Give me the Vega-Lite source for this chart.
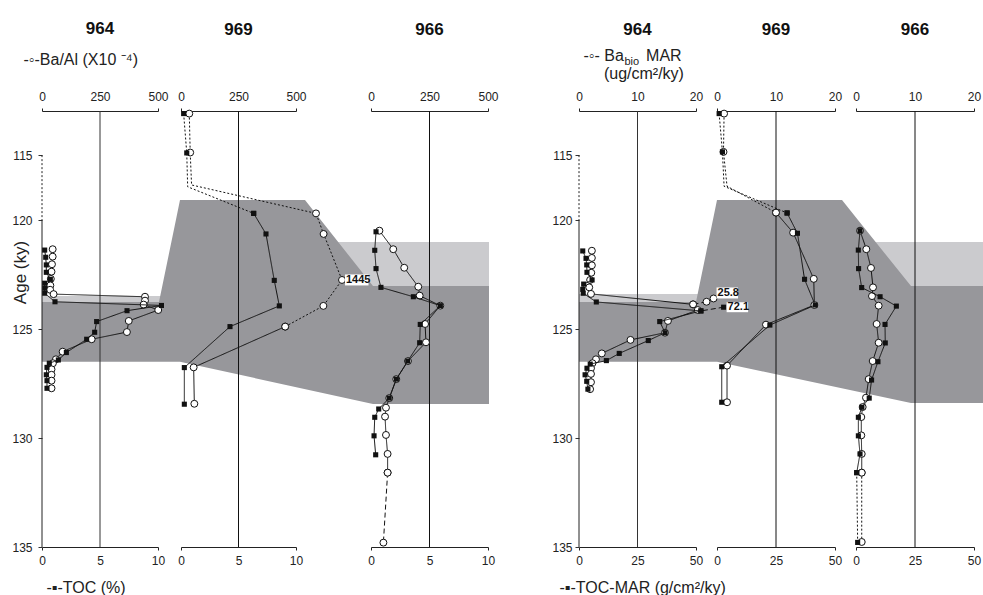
{
"$schema":"https://vega.github.io/schema/vega-lite/v6.json",
"padding":{"left":11,"top":20,"right":0,"bottom":0},
"bounds":"flush",
"spacing":0,
"hconcat":[
{"width":139,"height":436,
 "title":{"text":"964","anchor":"start","align":"center","dx":58,"dy":20,"frame":"group","offset":16,"baseline":"bottom","fontSize":17,"fontWeight":"bold","color":"#111"},
 "layer":[
  {"layer":[
    {"encoding":{
      "x":{"field":"x","type":"quantitative","scale":{"domain":[0,500],"range":[0,116],"nice":false,"zero":false},"axis":{"orient":"top","values":[0,250,500],"tickOpacity":{"condition":{"test":"datum.value == 250","value":0},"value":1},"title":"-◦-Ba/Al (X10 ⁻⁴)","titleX":-19,"titleY":-47,"titleAlign":"left","titleBaseline":"alphabetic"}},
      "y":{"field":"age","type":"quantitative","scale":{"domain":[111.6,120,135],"range":[0,109,436],"nice":false,"zero":false},"axis":{"orient":"left","values":[115,120,125,130,135],"domain":false,"tickSize":4,"tickColor":"#333","labelPadding":6,"title":"Age (ky)","titleFontSize":17,"titleAngle":-90,"titleX":-22,"titleY":161,"titleAlign":"center","titleBaseline":"middle"}}},
     "layer":[
      {"data":{"name":"shadeL"},"transform":[{"filter":"datum.p=='light'"}],"mark":{"type":"line","filled":true,"color":"#cbcbce"},"encoding":{"order":{"field":"i","type":"quantitative"}}},
      {"data":{"name":"shadeL"},"transform":[{"filter":"datum.p=='dark'"}],"mark":{"type":"line","filled":true,"color":"#97979b"},"encoding":{"order":{"field":"i","type":"quantitative"}}}
     ]},
    {"data":{"values":[{}]},"mark":{"type":"rule","color":"#333","strokeWidth":1},"encoding":{"x":{"datum":250}}},
    {"data":{"values":[{}]},"mark":{"type":"rule","color":"#222","strokeWidth":1},"encoding":{"x":{"datum":0},"y":{"datum":120},"y2":{"datum":135}}},
    {"data":{"values":[{}]},"mark":{"type":"rule","color":"#222","strokeWidth":1,"strokeDash":[2,2]},"encoding":{"x":{"datum":0},"y":{"datum":115},"y2":{"datum":120}}},
    {"encoding":{
      "x":{"field":"x","type":"quantitative","scale":{"domain":[0,500],"range":[0,116],"nice":false,"zero":false},"axis":{"orient":"top","values":[0,250,500],"tickOpacity":{"condition":{"test":"datum.value == 250","value":0},"value":1},"title":"-◦-Ba/Al (X10 ⁻⁴)","titleX":-19,"titleY":-47,"titleAlign":"left","titleBaseline":"alphabetic"}},
      "y":{"field":"age","type":"quantitative","scale":{"domain":[111.6,120,135],"range":[0,109,436],"nice":false,"zero":false},"axis":{"orient":"left","values":[115,120,125,130,135],"domain":false,"tickSize":4,"tickColor":"#333","labelPadding":6,"title":"Age (ky)","titleFontSize":17,"titleAngle":-90,"titleX":-22,"titleY":161,"titleAlign":"center","titleBaseline":"middle"}}},
     "layer":[
      {"data":{"name":"L964"},"transform":[{"filter":"datum.s=='ba'"}],"mark":{"type":"line","color":"#111","strokeWidth":1},"encoding":{"detail":{"field":"g","type":"nominal"},"strokeDash":{"field":"st","type":"nominal","scale":{"domain":["solid","dot","dash"],"range":[[1,0],[2,2],[5,3]]},"legend":null},"order":{"field":"age","type":"quantitative"}}},
      {"data":{"name":"L964"},"transform":[{"filter":"datum.s=='ba' && datum.m !== 0"}],"mark":{"type":"point","shape":"circle","filled":true,"fill":"#fff","stroke":"#111","strokeWidth":1,"size":48,"opacity":1}}
     ]}
  ]},
  {"encoding":{
    "x":{"field":"x","type":"quantitative","scale":{"domain":[0,10],"range":[0,116],"nice":false,"zero":false},"axis":{"orient":"bottom","values":[0,5,10],"tickOpacity":{"condition":{"test":"datum.value == 5","value":0},"value":1},"title":"-▪-TOC (%)","titleX":4,"titleY":45,"titleAlign":"left","titleBaseline":"alphabetic"}},
    "y":{"field":"age","type":"quantitative","scale":{"domain":[111.6,120,135],"range":[0,109,436],"nice":false,"zero":false},"axis":{"orient":"left","values":[115,120,125,130,135],"domain":false,"tickSize":4,"tickColor":"#333","labelPadding":6,"title":"Age (ky)","titleFontSize":17,"titleAngle":-90,"titleX":-22,"titleY":161,"titleAlign":"center","titleBaseline":"middle"}}},
   "layer":[
    {"data":{"name":"L964"},"transform":[{"filter":"datum.s=='toc'"}],"mark":{"type":"line","color":"#111","strokeWidth":1},"encoding":{"detail":{"field":"g","type":"nominal"},"strokeDash":{"field":"st","type":"nominal","scale":{"domain":["solid","dot","dash"],"range":[[1,0],[2,2],[5,3]]},"legend":null},"order":{"field":"age","type":"quantitative"}}},
    {"data":{"name":"L964"},"transform":[{"filter":"datum.s=='toc' && datum.m !== 0"}],"mark":{"type":"square","color":"#111","size":26,"opacity":1}}
   ]}
 ],
 "resolve":{"scale":{"x":"independent"},"axis":{"x":"independent"}}
},
{"width":190,"height":436,
 "title":{"text":"969","anchor":"start","align":"center","dx":57.5,"dy":20,"frame":"group","offset":54,"baseline":"bottom","fontSize":17,"fontWeight":"bold","color":"#111"},
 "layer":[
  {"layer":[
    {"data":{"values":[{}]},"mark":{"type":"rule","color":"#111","strokeWidth":1},"encoding":{"x":{"datum":250}}},
    {"encoding":{
      "x":{"field":"x","type":"quantitative","scale":{"domain":[0,500],"range":[0,115],"nice":false,"zero":false},"axis":{"orient":"top","values":[0,250,500],"tickOpacity":{"condition":{"test":"datum.value == 250","value":0},"value":1},"title":null}},
      "y":{"field":"age","type":"quantitative","scale":{"domain":[111.6,120,135],"range":[0,109,436],"nice":false,"zero":false},"axis":null}},
     "layer":[
      {"data":{"name":"L969"},"transform":[{"filter":"datum.s=='ba'"}],"mark":{"type":"line","color":"#111","strokeWidth":1},"encoding":{"detail":{"field":"g","type":"nominal"},"strokeDash":{"field":"st","type":"nominal","scale":{"domain":["solid","dot","dash"],"range":[[1,0],[2,2],[5,3]]},"legend":null},"order":{"field":"age","type":"quantitative"}}},
      {"data":{"name":"L969"},"transform":[{"filter":"datum.s=='ba' && datum.m !== 0"}],"mark":{"type":"point","shape":"circle","filled":true,"fill":"#fff","stroke":"#111","strokeWidth":1,"size":48,"opacity":1}},
      {"data":{"name":"L969"},"transform":[{"filter":"datum.s=='ba' && isValid(datum.lab)"}],"mark":{"type":"point","shape":"M0.3,-0.55H2.65V0.55H0.3Z","size":400,"filled":true,"fill":"#fff","strokeWidth":0,"opacity":1}},
      {"data":{"name":"L969"},"transform":[{"filter":"datum.s=='ba' && isValid(datum.lab)"}],"mark":{"type":"text","align":"left","baseline":"middle","dx":4,"fontSize":11,"fontWeight":"bold","color":"#111"},"encoding":{"text":{"field":"lab","type":"nominal"}}}
     ]}
  ]},
  {"encoding":{
    "x":{"field":"x","type":"quantitative","scale":{"domain":[0,10],"range":[0,115],"nice":false,"zero":false},"axis":{"orient":"bottom","values":[0,5,10],"tickOpacity":{"condition":{"test":"datum.value == 5","value":0},"value":1},"title":null}},
    "y":{"field":"age","type":"quantitative","scale":{"domain":[111.6,120,135],"range":[0,109,436],"nice":false,"zero":false},"axis":null}},
   "layer":[
    {"data":{"name":"L969"},"transform":[{"filter":"datum.s=='toc'"}],"mark":{"type":"line","color":"#111","strokeWidth":1},"encoding":{"detail":{"field":"g","type":"nominal"},"strokeDash":{"field":"st","type":"nominal","scale":{"domain":["solid","dot","dash"],"range":[[1,0],[2,2],[5,3]]},"legend":null},"order":{"field":"age","type":"quantitative"}}},
    {"data":{"name":"L969"},"transform":[{"filter":"datum.s=='toc' && datum.m !== 0"}],"mark":{"type":"square","color":"#111","size":26,"opacity":1}}
   ]}
 ],
 "resolve":{"scale":{"x":"independent"},"axis":{"x":"independent"}}
},
{"width":208,"height":436,
 "title":{"text":"966","anchor":"start","align":"center","dx":58.5,"dy":20,"frame":"group","offset":54,"baseline":"bottom","fontSize":17,"fontWeight":"bold","color":"#111"},
 "layer":[
  {"layer":[
    {"data":{"values":[{}]},"mark":{"type":"rule","color":"#111","strokeWidth":1},"encoding":{"x":{"datum":250}}},
    {"encoding":{
      "x":{"field":"x","type":"quantitative","scale":{"domain":[0,500],"range":[0,117],"nice":false,"zero":false},"axis":{"orient":"top","values":[0,250,500],"tickOpacity":{"condition":{"test":"datum.value == 250","value":0},"value":1},"title":null}},
      "y":{"field":"age","type":"quantitative","scale":{"domain":[111.6,120,135],"range":[0,109,436],"nice":false,"zero":false},"axis":null}},
     "layer":[
      {"data":{"name":"L966"},"transform":[{"filter":"datum.s=='ba'"}],"mark":{"type":"line","color":"#111","strokeWidth":1},"encoding":{"detail":{"field":"g","type":"nominal"},"strokeDash":{"field":"st","type":"nominal","scale":{"domain":["solid","dot","dash"],"range":[[1,0],[2,2],[5,3]]},"legend":null},"order":{"field":"age","type":"quantitative"}}},
      {"data":{"name":"L966"},"transform":[{"filter":"datum.s=='ba' && datum.m !== 0"}],"mark":{"type":"point","shape":"circle","filled":true,"fill":"#fff","stroke":"#111","strokeWidth":1,"size":48,"opacity":1}}
     ]}
  ]},
  {"encoding":{
    "x":{"field":"x","type":"quantitative","scale":{"domain":[0,10],"range":[0,117],"nice":false,"zero":false},"axis":{"orient":"bottom","values":[0,5,10],"tickOpacity":{"condition":{"test":"datum.value == 5","value":0},"value":1},"title":null}},
    "y":{"field":"age","type":"quantitative","scale":{"domain":[111.6,120,135],"range":[0,109,436],"nice":false,"zero":false},"axis":null}},
   "layer":[
    {"data":{"name":"L966"},"transform":[{"filter":"datum.s=='toc'"}],"mark":{"type":"line","color":"#111","strokeWidth":1},"encoding":{"detail":{"field":"g","type":"nominal"},"strokeDash":{"field":"st","type":"nominal","scale":{"domain":["solid","dot","dash"],"range":[[1,0],[2,2],[5,3]]},"legend":null},"order":{"field":"age","type":"quantitative"}}},
    {"data":{"name":"L966"},"transform":[{"filter":"datum.s=='toc' && datum.m !== 0"}],"mark":{"type":"square","color":"#111","size":26,"opacity":1}}
   ]}
 ],
 "resolve":{"scale":{"x":"independent"},"axis":{"x":"independent"}}
},
{"width":138,"height":436,
 "title":{"text":"964","anchor":"start","align":"center","dx":58.5,"dy":20,"frame":"group","offset":11,"baseline":"bottom","fontSize":17,"fontWeight":"bold","color":"#111"},
 "layer":[
  {"layer":[
    {"encoding":{
      "x":{"field":"x","type":"quantitative","scale":{"domain":[0,20],"range":[0,117],"nice":false,"zero":false},"axis":{"orient":"top","values":[0,10,20],"tickOpacity":{"condition":{"test":"datum.value == 10","value":0},"value":1},"title":["-◦- Ba\u00a0\u00a0\u00a0\u00a0\u00a0MAR","\u200b\u2002\u2002\u00a0(ug/cm²/ky)"],"titleX":4,"titleY":-51,"titleLineHeight":18,"titleAlign":"left","titleBaseline":"alphabetic"}},
      "y":{"field":"age","type":"quantitative","scale":{"domain":[111.6,120,135],"range":[0,109,436],"nice":false,"zero":false},"axis":{"orient":"left","values":[115,120,125,130,135],"domain":false,"tickSize":4,"tickColor":"#333","labelPadding":3,"title":"bio","titleFontSize":11,"titleAngle":0,"titleX":45,"titleY":-47,"titleAlign":"left","titleBaseline":"alphabetic"}}},
     "layer":[
      {"data":{"name":"shadeR"},"transform":[{"filter":"datum.p=='light'"}],"mark":{"type":"line","filled":true,"color":"#cbcbce"},"encoding":{"order":{"field":"i","type":"quantitative"}}},
      {"data":{"name":"shadeR"},"transform":[{"filter":"datum.p=='dark'"}],"mark":{"type":"line","filled":true,"color":"#97979b"},"encoding":{"order":{"field":"i","type":"quantitative"}}}
     ]},
    {"data":{"values":[{}]},"mark":{"type":"rule","color":"#333","strokeWidth":1},"encoding":{"x":{"datum":10}}},
    {"data":{"values":[{}]},"mark":{"type":"rule","color":"#222","strokeWidth":1},"encoding":{"x":{"datum":0},"y":{"datum":120},"y2":{"datum":135}}},
    {"data":{"values":[{}]},"mark":{"type":"rule","color":"#222","strokeWidth":1,"strokeDash":[2,2]},"encoding":{"x":{"datum":0},"y":{"datum":115},"y2":{"datum":120}}},
    {"encoding":{
      "x":{"field":"x","type":"quantitative","scale":{"domain":[0,20],"range":[0,117],"nice":false,"zero":false},"axis":{"orient":"top","values":[0,10,20],"tickOpacity":{"condition":{"test":"datum.value == 10","value":0},"value":1},"title":["-◦- Ba\u00a0\u00a0\u00a0\u00a0\u00a0MAR","\u200b\u2002\u2002\u00a0(ug/cm²/ky)"],"titleX":4,"titleY":-51,"titleLineHeight":18,"titleAlign":"left","titleBaseline":"alphabetic"}},
      "y":{"field":"age","type":"quantitative","scale":{"domain":[111.6,120,135],"range":[0,109,436],"nice":false,"zero":false},"axis":{"orient":"left","values":[115,120,125,130,135],"domain":false,"tickSize":4,"tickColor":"#333","labelPadding":3,"title":"bio","titleFontSize":11,"titleAngle":0,"titleX":45,"titleY":-47,"titleAlign":"left","titleBaseline":"alphabetic"}}},
     "layer":[
      {"data":{"name":"R964"},"transform":[{"filter":"datum.s=='ba'"}],"mark":{"type":"line","color":"#111","strokeWidth":1},"encoding":{"detail":{"field":"g","type":"nominal"},"strokeDash":{"field":"st","type":"nominal","scale":{"domain":["solid","dot","dash"],"range":[[1,0],[2,2],[5,3]]},"legend":null},"order":{"field":"age","type":"quantitative"}}},
      {"data":{"name":"R964"},"transform":[{"filter":"datum.s=='ba' && datum.m !== 0"}],"mark":{"type":"point","shape":"circle","filled":true,"fill":"#fff","stroke":"#111","strokeWidth":1,"size":48,"opacity":1}},
      {"data":{"name":"R964"},"transform":[{"filter":"datum.s=='ba' && isValid(datum.lab)"}],"mark":{"type":"point","shape":"M0.3,-1.1H2.45V0H0.3Z","size":400,"filled":true,"fill":"#fff","strokeWidth":0,"opacity":1}},
      {"data":{"name":"R964"},"transform":[{"filter":"datum.s=='ba' && isValid(datum.lab)"}],"mark":{"type":"text","align":"left","baseline":"middle","dx":4,"dy":-5,"fontSize":11,"fontWeight":"bold","color":"#111"},"encoding":{"text":{"field":"lab","type":"nominal"}}}
     ]}
  ]},
  {"encoding":{
    "x":{"field":"x","type":"quantitative","scale":{"domain":[0,50],"range":[0,117],"nice":false,"zero":false},"axis":{"orient":"bottom","values":[0,25,50],"tickOpacity":{"condition":{"test":"datum.value == 25","value":0},"value":1},"title":"-▪-TOC-MAR (g/cm²/ky)","titleX":-20,"titleY":45,"titleAlign":"left","titleBaseline":"alphabetic"}},
    "y":{"field":"age","type":"quantitative","scale":{"domain":[111.6,120,135],"range":[0,109,436],"nice":false,"zero":false},"axis":{"orient":"left","values":[115,120,125,130,135],"domain":false,"tickSize":4,"tickColor":"#333","labelPadding":3,"title":"bio","titleFontSize":11,"titleAngle":0,"titleX":45,"titleY":-47,"titleAlign":"left","titleBaseline":"alphabetic"}}},
   "layer":[
    {"data":{"name":"R964"},"transform":[{"filter":"datum.s=='toc'"}],"mark":{"type":"line","color":"#111","strokeWidth":1},"encoding":{"detail":{"field":"g","type":"nominal"},"strokeDash":{"field":"st","type":"nominal","scale":{"domain":["solid","dot","dash"],"range":[[1,0],[2,2],[5,3]]},"legend":null},"order":{"field":"age","type":"quantitative"}}},
    {"data":{"name":"R964"},"transform":[{"filter":"datum.s=='toc' && datum.m !== 0"}],"mark":{"type":"square","color":"#111","size":26,"opacity":1}},
    {"data":{"name":"R964"},"transform":[{"filter":"datum.s=='toc' && isValid(datum.lab)"}],"mark":{"type":"point","shape":"M0.3,-0.5H2.45V0.5H0.3Z","size":400,"filled":true,"fill":"#fff","strokeWidth":0,"opacity":1}},
    {"data":{"name":"R964"},"transform":[{"filter":"datum.s=='toc' && isValid(datum.lab)"}],"mark":{"type":"text","align":"left","baseline":"middle","dx":4,"fontSize":11,"fontWeight":"bold","color":"#111"},"encoding":{"text":{"field":"lab","type":"nominal"}}}
   ]}
 ],
 "resolve":{"scale":{"x":"independent"},"axis":{"x":"independent"}}
},
{"width":139,"height":436,
 "title":{"text":"969","anchor":"start","align":"center","dx":59,"dy":20,"frame":"group","offset":54,"baseline":"bottom","fontSize":17,"fontWeight":"bold","color":"#111"},
 "layer":[
  {"layer":[
    {"data":{"values":[{}]},"mark":{"type":"rule","color":"#111","strokeWidth":1},"encoding":{"x":{"datum":10}}},
    {"encoding":{
      "x":{"field":"x","type":"quantitative","scale":{"domain":[0,20],"range":[0,118],"nice":false,"zero":false},"axis":{"orient":"top","values":[0,10,20],"tickOpacity":{"condition":{"test":"datum.value == 10","value":0},"value":1},"title":null}},
      "y":{"field":"age","type":"quantitative","scale":{"domain":[111.6,120,135],"range":[0,109,436],"nice":false,"zero":false},"axis":null}},
     "layer":[
      {"data":{"name":"R969"},"transform":[{"filter":"datum.s=='ba'"}],"mark":{"type":"line","color":"#111","strokeWidth":1},"encoding":{"detail":{"field":"g","type":"nominal"},"strokeDash":{"field":"st","type":"nominal","scale":{"domain":["solid","dot","dash"],"range":[[1,0],[2,2],[5,3]]},"legend":null},"order":{"field":"age","type":"quantitative"}}},
      {"data":{"name":"R969"},"transform":[{"filter":"datum.s=='ba' && datum.m !== 0"}],"mark":{"type":"point","shape":"circle","filled":true,"fill":"#fff","stroke":"#111","strokeWidth":1,"size":48,"opacity":1}}
     ]}
  ]},
  {"encoding":{
    "x":{"field":"x","type":"quantitative","scale":{"domain":[0,50],"range":[0,118],"nice":false,"zero":false},"axis":{"orient":"bottom","values":[0,25,50],"tickOpacity":{"condition":{"test":"datum.value == 25","value":0},"value":1},"title":null}},
    "y":{"field":"age","type":"quantitative","scale":{"domain":[111.6,120,135],"range":[0,109,436],"nice":false,"zero":false},"axis":null}},
   "layer":[
    {"data":{"name":"R969"},"transform":[{"filter":"datum.s=='toc'"}],"mark":{"type":"line","color":"#111","strokeWidth":1},"encoding":{"detail":{"field":"g","type":"nominal"},"strokeDash":{"field":"st","type":"nominal","scale":{"domain":["solid","dot","dash"],"range":[[1,0],[2,2],[5,3]]},"legend":null},"order":{"field":"age","type":"quantitative"}}},
    {"data":{"name":"R969"},"transform":[{"filter":"datum.s=='toc' && datum.m !== 0"}],"mark":{"type":"square","color":"#111","size":26,"opacity":1}}
   ]}
 ],
 "resolve":{"scale":{"x":"independent"},"axis":{"x":"independent"}}
},
{"width":127,"height":436,
 "title":{"text":"966","anchor":"start","align":"center","dx":59,"dy":20,"frame":"group","offset":54,"baseline":"bottom","fontSize":17,"fontWeight":"bold","color":"#111"},
 "layer":[
  {"layer":[
    {"data":{"values":[{}]},"mark":{"type":"rule","color":"#111","strokeWidth":1},"encoding":{"x":{"datum":10}}},
    {"encoding":{
      "x":{"field":"x","type":"quantitative","scale":{"domain":[0,20],"range":[0,118],"nice":false,"zero":false},"axis":{"orient":"top","values":[0,10,20],"tickOpacity":{"condition":{"test":"datum.value == 10","value":0},"value":1},"title":null}},
      "y":{"field":"age","type":"quantitative","scale":{"domain":[111.6,120,135],"range":[0,109,436],"nice":false,"zero":false},"axis":null}},
     "layer":[
      {"data":{"name":"R966"},"transform":[{"filter":"datum.s=='ba'"}],"mark":{"type":"line","color":"#111","strokeWidth":1},"encoding":{"detail":{"field":"g","type":"nominal"},"strokeDash":{"field":"st","type":"nominal","scale":{"domain":["solid","dot","dash"],"range":[[1,0],[2,2],[5,3]]},"legend":null},"order":{"field":"age","type":"quantitative"}}},
      {"data":{"name":"R966"},"transform":[{"filter":"datum.s=='ba' && datum.m !== 0"}],"mark":{"type":"point","shape":"circle","filled":true,"fill":"#fff","stroke":"#111","strokeWidth":1,"size":48,"opacity":1}}
     ]}
  ]},
  {"encoding":{
    "x":{"field":"x","type":"quantitative","scale":{"domain":[0,50],"range":[0,118],"nice":false,"zero":false},"axis":{"orient":"bottom","values":[0,25,50],"tickOpacity":{"condition":{"test":"datum.value == 25","value":0},"value":1},"title":null}},
    "y":{"field":"age","type":"quantitative","scale":{"domain":[111.6,120,135],"range":[0,109,436],"nice":false,"zero":false},"axis":null}},
   "layer":[
    {"data":{"name":"R966"},"transform":[{"filter":"datum.s=='toc'"}],"mark":{"type":"line","color":"#111","strokeWidth":1},"encoding":{"detail":{"field":"g","type":"nominal"},"strokeDash":{"field":"st","type":"nominal","scale":{"domain":["solid","dot","dash"],"range":[[1,0],[2,2],[5,3]]},"legend":null},"order":{"field":"age","type":"quantitative"}}},
    {"data":{"name":"R966"},"transform":[{"filter":"datum.s=='toc' && datum.m !== 0"}],"mark":{"type":"square","color":"#111","size":26,"opacity":1}}
   ]}
 ],
 "resolve":{"scale":{"x":"independent"},"axis":{"x":"independent"}}
}
],
"datasets":{
"shadeL":[
{"p":"dark","i":0,"x":0,"age":123.76},{"p":"dark","i":1,"x":504.3,"age":123.76},{"p":"dark","i":2,"x":577.2,"age":120},{"p":"dark","i":3,"x":594.8,"age":118.46},{"p":"dark","i":4,"x":1133.6,"age":118.46},{"p":"dark","i":5,"x":1201.7,"age":120},{"p":"dark","i":6,"x":1426.7,"age":123.03},{"p":"dark","i":7,"x":1926.7,"age":123.03},{"p":"dark","i":8,"x":1926.7,"age":128.44},{"p":"dark","i":9,"x":1426.7,"age":128.44},{"p":"dark","i":10,"x":594.8,"age":126.5},{"p":"dark","i":11,"x":0,"age":126.5},
{"p":"light","i":0,"x":0,"age":123.49},{"p":"light","i":1,"x":513,"age":123.49},{"p":"light","i":2,"x":1250,"age":121.01},{"p":"light","i":3,"x":1926.7,"age":121.01},{"p":"light","i":4,"x":1926.7,"age":123.03},{"p":"light","i":5,"x":1300,"age":123.03},{"p":"light","i":6,"x":700,"age":123.76},{"p":"light","i":7,"x":0,"age":123.76}
],
"shadeR":[
{"p":"dark","i":0,"x":0,"age":123.76},{"p":"dark","i":1,"x":20,"age":123.76},{"p":"dark","i":2,"x":22.89,"age":120},{"p":"dark","i":3,"x":23.59,"age":118.46},{"p":"dark","i":4,"x":44.96,"age":118.46},{"p":"dark","i":5,"x":47.69,"age":120},{"p":"dark","i":6,"x":56.75,"age":123.03},{"p":"dark","i":7,"x":69.06,"age":123.03},{"p":"dark","i":8,"x":69.06,"age":128.39},{"p":"dark","i":9,"x":56.75,"age":128.39},{"p":"dark","i":10,"x":23.59,"age":126.5},{"p":"dark","i":11,"x":0,"age":126.5},
{"p":"light","i":0,"x":0,"age":123.4},{"p":"light","i":1,"x":20.5,"age":123.4},{"p":"light","i":2,"x":35,"age":121.01},{"p":"light","i":3,"x":69.06,"age":121.01},{"p":"light","i":4,"x":69.06,"age":123.03},{"p":"light","i":5,"x":40,"age":123.03},{"p":"light","i":6,"x":28,"age":123.76},{"p":"light","i":7,"x":0,"age":123.76}
],
"L964":[
{"s":"ba","g":"a","st":"solid","age":121.34,"x":46},{"s":"ba","g":"a","st":"solid","age":121.68,"x":46},{"s":"ba","g":"a","st":"solid","age":122.03,"x":43},{"s":"ba","g":"a","st":"solid","age":122.37,"x":41},{"s":"ba","g":"a","st":"solid","age":122.70,"x":38},{"s":"ba","g":"a","st":"solid","age":123.00,"x":36},{"s":"ba","g":"a","st":"solid","age":123.20,"x":35},{"s":"ba","g":"a","st":"solid","age":123.40,"x":50},{"s":"ba","g":"a","st":"solid","age":123.52,"x":444},{"s":"ba","g":"a","st":"solid","age":123.70,"x":444},{"s":"ba","g":"a","st":"solid","age":123.88,"x":438},{"s":"ba","g":"a","st":"solid","age":124.13,"x":501},{"s":"ba","g":"a","st":"solid","age":124.63,"x":374},{"s":"ba","g":"a","st":"solid","age":125.14,"x":366},{"s":"ba","g":"a","st":"solid","age":125.47,"x":214},{"s":"ba","g":"a","st":"solid","age":126.04,"x":89},{"s":"ba","g":"a","st":"solid","age":126.39,"x":60},{"s":"ba","g":"a","st":"solid","age":126.57,"x":47},{"s":"ba","g":"a","st":"solid","age":126.85,"x":41},{"s":"ba","g":"a","st":"solid","age":127.10,"x":41},{"s":"ba","g":"a","st":"solid","age":127.37,"x":41},{"s":"ba","g":"a","st":"solid","age":127.72,"x":41},
{"s":"toc","g":"b","st":"solid","age":121.38,"x":0.23},{"s":"toc","g":"b","st":"solid","age":121.71,"x":0.32},{"s":"toc","g":"b","st":"solid","age":122.06,"x":0.37},{"s":"toc","g":"b","st":"solid","age":122.40,"x":0.37},{"s":"toc","g":"b","st":"solid","age":122.72,"x":0.72},{"s":"toc","g":"b","st":"solid","age":122.90,"x":0.23},{"s":"toc","g":"b","st":"solid","age":123.13,"x":0.23},{"s":"toc","g":"b","st":"solid","age":123.36,"x":0.23},{"s":"toc","g":"b","st":"solid","age":123.75,"x":1.12},{"s":"toc","g":"b","st":"solid","age":123.92,"x":10.3},{"s":"toc","g":"b","st":"solid","age":124.16,"x":7.33},{"s":"toc","g":"b","st":"solid","age":124.66,"x":4.71},{"s":"toc","g":"b","st":"solid","age":125.15,"x":4.54},{"s":"toc","g":"b","st":"solid","age":125.47,"x":3.85},{"s":"toc","g":"b","st":"solid","age":126.08,"x":2.10},{"s":"toc","g":"b","st":"solid","age":126.42,"x":1.41},{"s":"toc","g":"b","st":"solid","age":126.57,"x":0.63},{"s":"toc","g":"b","st":"solid","age":126.76,"x":0.43},{"s":"toc","g":"b","st":"solid","age":127.10,"x":0.37},{"s":"toc","g":"b","st":"solid","age":127.37,"x":0.43},{"s":"toc","g":"b","st":"solid","age":127.72,"x":0.43}
],
"L969":[
{"s":"ba","g":"a1","st":"dot","age":111.8,"x":36},{"s":"ba","g":"a1","st":"dot","age":114.8,"x":40},{"s":"ba","g":"a1","st":"dot","age":117.3,"x":46,"m":0},{"s":"ba","g":"a1","st":"dot","age":119.49,"x":587},{"s":"ba","g":"a1","st":"dot","age":120.64,"x":620},{"s":"ba","g":"a1","st":"dot","age":122.75,"x":700,"lab":"1445"},{"s":"ba","g":"a1","st":"dot","age":123.94,"x":619},{"s":"ba","g":"a1","st":"dot","age":124.89,"x":453},
{"s":"ba","g":"a2","st":"solid","age":124.89,"x":453},{"s":"ba","g":"a2","st":"solid","age":126.76,"x":55},{"s":"ba","g":"a2","st":"solid","age":128.43,"x":58},
{"s":"toc","g":"b1","st":"dot","age":111.8,"x":0.23},{"s":"toc","g":"b1","st":"dot","age":114.83,"x":0.5},{"s":"toc","g":"b1","st":"dot","age":117.44,"x":0.58,"m":0},{"s":"toc","g":"b1","st":"dot","age":119.49,"x":6.32},
{"s":"toc","g":"b2","st":"solid","age":119.49,"x":6.32},{"s":"toc","g":"b2","st":"solid","age":120.64,"x":7.39},{"s":"toc","g":"b2","st":"solid","age":122.77,"x":8.11},{"s":"toc","g":"b2","st":"solid","age":123.94,"x":8.55},{"s":"toc","g":"b2","st":"solid","age":124.89,"x":4.26},{"s":"toc","g":"b2","st":"solid","age":126.77,"x":0.29},{"s":"toc","g":"b2","st":"solid","age":128.45,"x":0.29}
],
"L966":[
{"s":"ba","g":"a1","st":"solid","age":120.49,"x":36},{"s":"ba","g":"a1","st":"solid","age":121.34,"x":95},{"s":"ba","g":"a1","st":"solid","age":122.19,"x":142},{"s":"ba","g":"a1","st":"solid","age":123.06,"x":202},{"s":"ba","g":"a1","st":"solid","age":123.47,"x":208},{"s":"ba","g":"a1","st":"solid","age":123.93,"x":296},{"s":"ba","g":"a1","st":"solid","age":124.77,"x":231},{"s":"ba","g":"a1","st":"solid","age":125.61,"x":235},{"s":"ba","g":"a1","st":"solid","age":126.47,"x":158},{"s":"ba","g":"a1","st":"solid","age":127.30,"x":108},{"s":"ba","g":"a1","st":"solid","age":128.17,"x":78},{"s":"ba","g":"a1","st":"solid","age":128.61,"x":64},{"s":"ba","g":"a1","st":"solid","age":129.02,"x":60},{"s":"ba","g":"a1","st":"solid","age":129.86,"x":64},{"s":"ba","g":"a1","st":"solid","age":130.73,"x":71},{"s":"ba","g":"a1","st":"solid","age":131.59,"x":71},
{"s":"ba","g":"a2","st":"dash","age":131.59,"x":71},{"s":"ba","g":"a2","st":"dash","age":134.80,"x":53},
{"s":"toc","g":"b1","st":"solid","age":120.54,"x":0.43},{"s":"toc","g":"b1","st":"solid","age":121.39,"x":0.32},{"s":"toc","g":"b1","st":"solid","age":122.23,"x":0.43},{"s":"toc","g":"b1","st":"solid","age":123.09,"x":0.85},{"s":"toc","g":"b1","st":"solid","age":123.52,"x":3.62},{"s":"toc","g":"b1","st":"solid","age":123.93,"x":5.93},{"s":"toc","g":"b1","st":"solid","age":124.79,"x":4.21},{"s":"toc","g":"b1","st":"solid","age":125.63,"x":4.16},{"s":"toc","g":"b1","st":"solid","age":126.47,"x":3.14},{"s":"toc","g":"b1","st":"solid","age":127.30,"x":2.17},{"s":"toc","g":"b1","st":"solid","age":128.17,"x":1.56},{"s":"toc","g":"b1","st":"solid","age":128.67,"x":0.66},{"s":"toc","g":"b1","st":"solid","age":129.05,"x":0.32},{"s":"toc","g":"b1","st":"solid","age":129.90,"x":0.26},{"s":"toc","g":"b1","st":"solid","age":130.77,"x":0.40}
],
"R964":[
{"s":"ba","g":"a1","st":"solid","age":121.41,"x":2.2},{"s":"ba","g":"a1","st":"solid","age":121.74,"x":2.2},{"s":"ba","g":"a1","st":"solid","age":122.08,"x":2.2},{"s":"ba","g":"a1","st":"solid","age":122.42,"x":2.1},{"s":"ba","g":"a1","st":"solid","age":122.75,"x":1.9},{"s":"ba","g":"a1","st":"solid","age":123.09,"x":1.75},{"s":"ba","g":"a1","st":"solid","age":123.39,"x":2.05},{"s":"ba","g":"a1","st":"solid","age":123.87,"x":19.5},{"s":"ba","g":"a1","st":"solid","age":124.13,"x":20.3},{"s":"ba","g":"a1","st":"solid","age":124.63,"x":15.2},{"s":"ba","g":"a1","st":"solid","age":125.17,"x":14.7},{"s":"ba","g":"a1","st":"solid","age":125.50,"x":8.8},{"s":"ba","g":"a1","st":"solid","age":126.12,"x":3.9},{"s":"ba","g":"a1","st":"solid","age":126.39,"x":2.9},{"s":"ba","g":"a1","st":"solid","age":126.57,"x":2.3},{"s":"ba","g":"a1","st":"solid","age":126.80,"x":2.05},{"s":"ba","g":"a1","st":"solid","age":127.06,"x":2.05},{"s":"ba","g":"a1","st":"solid","age":127.44,"x":2.05},{"s":"ba","g":"a1","st":"solid","age":127.76,"x":1.9},
{"s":"ba","g":"a2","st":"dash","age":123.60,"x":23.0,"lab":"25.8"},{"s":"ba","g":"a2","st":"dash","age":123.75,"x":21.8},{"s":"ba","g":"a2","st":"dash","age":123.87,"x":19.5},
{"s":"toc","g":"b1","st":"solid","age":121.42,"x":1.6},{"s":"toc","g":"b1","st":"solid","age":121.76,"x":3.0},{"s":"toc","g":"b1","st":"solid","age":122.06,"x":3.3},{"s":"toc","g":"b1","st":"solid","age":122.40,"x":3.4},{"s":"toc","g":"b1","st":"solid","age":122.75,"x":5.6},{"s":"toc","g":"b1","st":"solid","age":122.94,"x":2.0},{"s":"toc","g":"b1","st":"solid","age":123.18,"x":1.6},{"s":"toc","g":"b1","st":"solid","age":123.36,"x":1.8},{"s":"toc","g":"b1","st":"solid","age":123.76,"x":7.4},{"s":"toc","g":"b1","st":"solid","age":124.17,"x":52.1},{"s":"toc","g":"b1","st":"solid","age":124.66,"x":34.5},{"s":"toc","g":"b1","st":"solid","age":125.17,"x":36.8},{"s":"toc","g":"b1","st":"solid","age":125.53,"x":29.6},{"s":"toc","g":"b1","st":"solid","age":126.12,"x":17.2},{"s":"toc","g":"b1","st":"solid","age":126.45,"x":11.7},{"s":"toc","g":"b1","st":"solid","age":126.61,"x":4.8},{"s":"toc","g":"b1","st":"solid","age":126.80,"x":3.4},{"s":"toc","g":"b1","st":"solid","age":127.10,"x":2.6},{"s":"toc","g":"b1","st":"solid","age":127.40,"x":3.3},{"s":"toc","g":"b1","st":"solid","age":127.76,"x":3.8},
{"s":"toc","g":"b2","st":"dash","age":124.00,"x":61.8,"lab":"72.1"},{"s":"toc","g":"b2","st":"dash","age":124.17,"x":52.1}
],
"R969":[
{"s":"ba","g":"a1","st":"dot","age":111.8,"x":1.2},{"s":"ba","g":"a1","st":"dot","age":114.75,"x":1.1},{"s":"ba","g":"a1","st":"dot","age":117.4,"x":1.7,"m":0},{"s":"ba","g":"a1","st":"dot","age":119.43,"x":10.0},
{"s":"ba","g":"a2","st":"solid","age":119.43,"x":10.0},{"s":"ba","g":"a2","st":"solid","age":120.58,"x":12.9},{"s":"ba","g":"a2","st":"solid","age":122.70,"x":16.4},{"s":"ba","g":"a2","st":"solid","age":123.90,"x":16.5},{"s":"ba","g":"a2","st":"solid","age":124.80,"x":8.3},{"s":"ba","g":"a2","st":"solid","age":126.68,"x":1.7},{"s":"ba","g":"a2","st":"solid","age":128.36,"x":1.7},
{"s":"toc","g":"b1","st":"dot","age":111.8,"x":0.9},{"s":"toc","g":"b1","st":"dot","age":114.75,"x":2.3},{"s":"toc","g":"b1","st":"dot","age":117.4,"x":3.0,"m":0},{"s":"toc","g":"b1","st":"dot","age":119.46,"x":29.7},
{"s":"toc","g":"b2","st":"solid","age":119.46,"x":29.7},{"s":"toc","g":"b2","st":"solid","age":120.61,"x":34.1},{"s":"toc","g":"b2","st":"solid","age":122.72,"x":37.1},{"s":"toc","g":"b2","st":"solid","age":123.90,"x":41.6},{"s":"toc","g":"b2","st":"solid","age":124.82,"x":22.4},{"s":"toc","g":"b2","st":"solid","age":126.73,"x":2.0},{"s":"toc","g":"b2","st":"solid","age":128.36,"x":2.0}
],
"R966":[
{"s":"ba","g":"a1","st":"solid","age":120.49,"x":0.68},{"s":"ba","g":"a1","st":"solid","age":121.34,"x":1.75},{"s":"ba","g":"a1","st":"solid","age":122.20,"x":2.54},{"s":"ba","g":"a1","st":"solid","age":123.09,"x":2.88},{"s":"ba","g":"a1","st":"solid","age":123.49,"x":2.71},{"s":"ba","g":"a1","st":"solid","age":123.93,"x":3.84},{"s":"ba","g":"a1","st":"solid","age":124.77,"x":3.50},{"s":"ba","g":"a1","st":"solid","age":125.63,"x":3.84},{"s":"ba","g":"a1","st":"solid","age":126.47,"x":2.83},{"s":"ba","g":"a1","st":"solid","age":127.30,"x":2.15},{"s":"ba","g":"a1","st":"solid","age":128.15,"x":1.69},{"s":"ba","g":"a1","st":"solid","age":128.58,"x":1.13},{"s":"ba","g":"a1","st":"solid","age":129.04,"x":0.9},{"s":"ba","g":"a1","st":"solid","age":129.88,"x":0.9},{"s":"ba","g":"a1","st":"solid","age":130.73,"x":0.97},{"s":"ba","g":"a1","st":"solid","age":131.59,"x":0.97},
{"s":"ba","g":"a2","st":"dot","age":131.59,"x":0.97},{"s":"ba","g":"a2","st":"dot","age":134.77,"x":0.97},
{"s":"toc","g":"b1","st":"solid","age":120.49,"x":1.7},{"s":"toc","g":"b1","st":"solid","age":121.38,"x":0.98},{"s":"toc","g":"b1","st":"solid","age":122.23,"x":1.1},{"s":"toc","g":"b1","st":"solid","age":123.10,"x":2.4},{"s":"toc","g":"b1","st":"solid","age":123.52,"x":10.2},{"s":"toc","g":"b1","st":"solid","age":123.95,"x":17.1},{"s":"toc","g":"b1","st":"solid","age":124.79,"x":12.3},{"s":"toc","g":"b1","st":"solid","age":125.64,"x":12.4},{"s":"toc","g":"b1","st":"solid","age":126.50,"x":9.3},{"s":"toc","g":"b1","st":"solid","age":127.34,"x":6.6},{"s":"toc","g":"b1","st":"solid","age":128.17,"x":5.6},{"s":"toc","g":"b1","st":"solid","age":128.59,"x":2.5},{"s":"toc","g":"b1","st":"solid","age":129.05,"x":1.0},{"s":"toc","g":"b1","st":"solid","age":129.90,"x":1.0},{"s":"toc","g":"b1","st":"solid","age":130.73,"x":1.7},{"s":"toc","g":"b1","st":"solid","age":131.59,"x":0.3},
{"s":"toc","g":"b2","st":"dot","age":131.59,"x":0.3},{"s":"toc","g":"b2","st":"dot","age":134.79,"x":0.7}
]
},
"config":{
 "font":"Liberation Sans",
 "view":{"stroke":null},
 "axis":{"domainColor":"#222","tickColor":"#222","labelFontSize":12,"labelColor":"#222","labelFlush":false,"labelOverlap":false,"grid":false,"tickSize":3,"labelPadding":5,"titleFontSize":16,"titleFontWeight":"normal","titleColor":"#222","labelFont":"Liberation Sans","titleFont":"Liberation Sans"},
 "title":{"font":"Liberation Sans"}
}
}
